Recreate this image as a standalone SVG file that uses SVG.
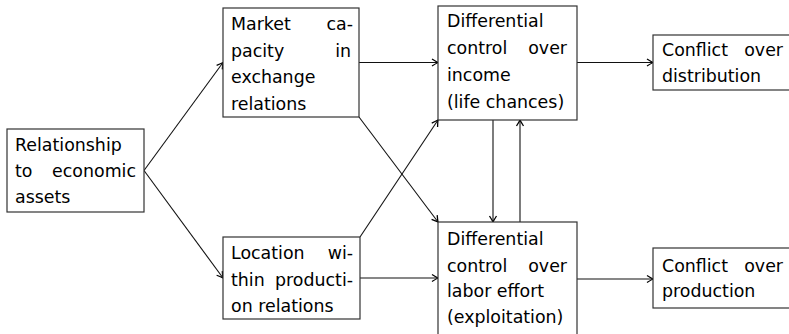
<svg xmlns="http://www.w3.org/2000/svg" width="789" height="334" viewBox="0 0 789 334">
<style>
.box{fill:#fff;stroke:#333;stroke-width:1.2}
text{font-family:"DejaVu Sans",sans-serif;font-size:17.4px;fill:#000}
.r{text-anchor:end}
.c{fill:none;stroke:#111;stroke-width:1.1;marker-end:url(#ah)}
</style>
<defs>
<marker id="ah" viewBox="-7 -5 8 10" refX="0" refY="0" markerWidth="8" markerHeight="10" markerUnits="userSpaceOnUse" orient="auto">
<path d="M-6,-3.5 Q-2,-1 0,0 Q-2,1 -6,3.5" fill="none" stroke="#000" stroke-width="1.3"/>
</marker>
</defs>
<g id="connectors">
<line class="c" x1="144" y1="170.5" x2="223" y2="62.5"/>
<line class="c" x1="144" y1="170.5" x2="223" y2="278"/>
<line class="c" x1="359" y1="62.5" x2="438" y2="62.5"/>
<line class="c" x1="359" y1="117" x2="438" y2="222"/>
<line class="c" x1="360" y1="237" x2="438" y2="120"/>
<line class="c" x1="360" y1="278" x2="438" y2="278"/>
<line class="c" x1="577" y1="62.5" x2="653" y2="62.5"/>
<line class="c" x1="577" y1="279" x2="653" y2="279"/>
<line class="c" x1="493" y1="120" x2="493" y2="222"/>
<line class="c" x1="520" y1="222" x2="520" y2="120"/>
</g>
<g id="assets">
<rect class="box" x="7" y="129" width="137" height="83"/>
<text x="15" y="151">Relationship</text>
<text x="15" y="177">to</text><text class="r" x="136" y="177">economic</text>
<text x="15" y="203">assets</text>
</g>
<g id="market">
<rect class="box" x="223" y="8" width="136" height="109"/>
<text x="231" y="30">Market</text><text class="r" x="353" y="30">ca-</text>
<text x="231" y="57">pacity</text><text class="r" x="351" y="57">in</text>
<text x="231" y="83">exchange</text>
<text x="231" y="110">relations</text>
</g>
<g id="income">
<rect class="box" x="438" y="6" width="139" height="114"/>
<text x="447" y="27">Differential</text>
<text x="447" y="54">control</text><text class="r" x="567" y="54">over</text>
<text x="447" y="81">income</text>
<text x="447" y="108">(life chances)</text>
</g>
<g id="distribution">
<rect class="box" x="653" y="35" width="145" height="55"/>
<text x="662" y="56">Conflict</text><text class="r" x="783" y="56">over</text>
<text x="662" y="82">distribution</text>
</g>
<g id="location">
<rect class="box" x="223" y="237" width="137" height="82"/>
<text x="231" y="259">Location</text><text class="r" x="353" y="259">wi-</text>
<text x="231" y="286">thin</text><text class="r" x="353" y="286">producti-</text>
<text x="231" y="312">on relations</text>
</g>
<g id="labor">
<rect class="box" x="438" y="222" width="139" height="116"/>
<text x="447" y="245">Differential</text>
<text x="447" y="272">control</text><text class="r" x="567" y="272">over</text>
<text x="447" y="297">labor effort</text>
<text x="447" y="323">(exploitation)</text>
</g>
<g id="production">
<rect class="box" x="653" y="248" width="145" height="60"/>
<text x="662" y="272">Conflict</text><text class="r" x="783" y="272">over</text>
<text x="662" y="297">production</text>
</g>
</svg>
